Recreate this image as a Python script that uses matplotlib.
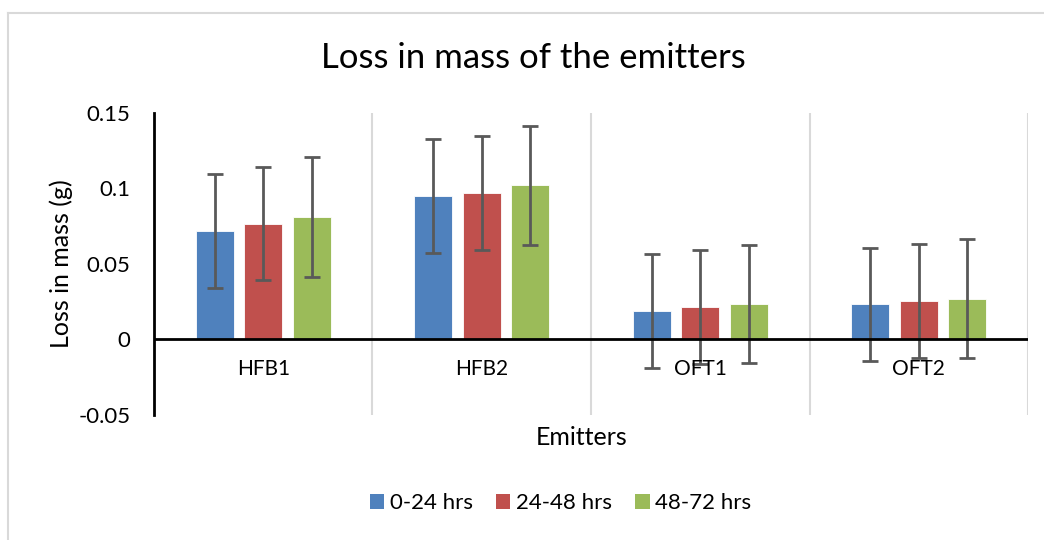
import numpy as np
import matplotlib
matplotlib.use('Agg')
import matplotlib.pyplot as plt
from matplotlib.patches import Patch

plt.rcParams['font.family'] = ['Lato', 'DejaVu Sans']

emitters = ['HFB1', 'HFB2', 'OFT1', 'OFT2']
periods = ['0-24 hrs', '24-48 hrs', '48-72 hrs']
loss_0_24 = [0.0719, 0.0951, 0.0188, 0.0233]
loss_24_48 = [0.0766, 0.0967, 0.0214, 0.0254]
loss_48_72 = [0.0810, 0.1020, 0.0234, 0.0270]
err_0_24 = [0.0376, 0.0376, 0.0375, 0.0374]
err_24_48 = [0.0376, 0.0377, 0.0376, 0.0377]
err_48_72 = [0.0394, 0.0393, 0.0392, 0.0393]
colors = ['#4F81BD', '#C0504D', '#9BBB59']

fig = plt.figure(figsize=(10.44, 5.4), dpi=100)
ax = fig.add_axes([0.1475, 0.2315, 0.8372, 0.5598])

x = np.arange(len(emitters))
width = 0.174
step = 0.222
series = [(loss_0_24, err_0_24), (loss_24_48, err_24_48), (loss_48_72, err_48_72)]
for i, (vals, errs) in enumerate(series):
    pos = x + (i - 1) * step
    ax.bar(pos, vals, width, color=colors[i], edgecolor='white', linewidth=0.6, zorder=2)
    ax.errorbar(pos, vals, yerr=errs, fmt='none', ecolor='#595959',
                elinewidth=2, capsize=6, capthick=2, zorder=3)

# category separators
for s in np.arange(0.5, len(emitters) + 0.5, 1):
    ax.axvline(s, color='#D9D9D9', linewidth=1.5, zorder=1)
ax.axhline(0, color='black', linewidth=2, zorder=4)

ax.set_xlim(-0.5, len(emitters) - 0.5)
ax.set_ylim(-0.05, 0.15)
ax.set_yticks([-0.05, 0, 0.05, 0.1, 0.15])
ax.set_yticklabels(['-0.05', '0', '0.05', '0.1', '0.15'])
ax.tick_params(axis='y', length=0, labelsize=16, pad=17)
ax.set_xticks([])
for xi, name in zip(x, emitters):
    ax.text(xi, -0.0195, name, ha='center', va='center', fontsize=15)

for side in ['top', 'right', 'bottom']:
    ax.spines[side].set_visible(False)
ax.spines['left'].set_linewidth(2)

ax.set_ylabel('Loss in mass (g)', fontsize=18, labelpad=4)
fig.text(0.5575, 0.189, 'Emitters', ha='center', va='center', fontsize=18)
fig.text(0.5105, 0.893, 'Loss in mass of the emitters', ha='center', va='center', fontsize=25)

handles = [Patch(facecolor=c) for c in colors]
fig.legend(handles, periods, loc='center', bbox_to_anchor=(0.537, 0.068), ncol=3,
           frameon=False, fontsize=16, handlelength=0.64, handleheight=0.64,
           handletextpad=0.25, columnspacing=1.05)

# chart border (cropped at right and bottom)
fig.add_artist(plt.Line2D([8 / 1044, 1], [1 - 13 / 540, 1 - 13 / 540], color='#D9D9D9', linewidth=1.5))
fig.add_artist(plt.Line2D([8 / 1044, 8 / 1044], [0, 1 - 13 / 540], color='#D9D9D9', linewidth=1.5))

fig.savefig('out.png', dpi=100)
